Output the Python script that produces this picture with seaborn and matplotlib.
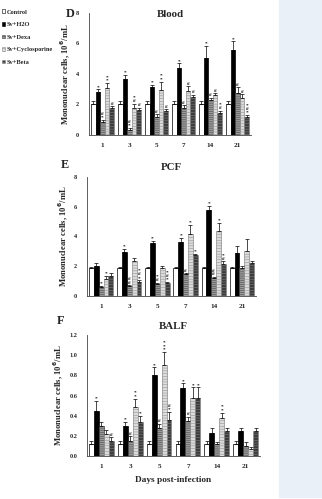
import numpy as np
import pandas as pd
import matplotlib
matplotlib.use("Agg")
import matplotlib.pyplot as plt
import matplotlib.patches as mpatches
import seaborn as sns

days = ["1", "3", "5", "7", "14", "21"]
groups = ["Control", "Sv+H2O", "Sv+Dexa", "Sv+Cyclosporine", "Sv+Beta"]

# Blood (panel D)
blood_control = [2.0, 2.0, 2.0, 2.0, 2.0, 2.0]
blood_h2o = [2.85, 3.7, 3.15, 4.4, 5.05, 5.6]
blood_dexa = [0.85, 0.35, 1.2, 1.8, 2.3, 2.75]
blood_cyclo = [3.1, 1.75, 2.95, 2.9, 2.6, 2.4]
blood_beta = [1.75, 1.65, 1.55, 2.5, 1.45, 1.15]
blood_err_control = [0.2, 0.2, 0.2, 0.2, 0.2, 0.2]
blood_err_h2o = [0.15, 0.25, 0.15, 0.3, 0.8, 0.55]
blood_err_dexa = [0.15, 0.1, 0.15, 0.15, 0.15, 0.4]
blood_err_cyclo = [0.3, 0.3, 0.55, 0.3, 0.15, 0.3]
blood_err_beta = [0.15, 0.15, 0.15, 0.15, 0.15, 0.15]
blood_marks = [
    ["", "", "", "", "", ""],
    ["*", "*", "*", "*", "*", "*"],
    ["#\n*", "#\n*", "#", "#", "#", "#"],
    ["*\n*", "*\n#", "*\n*", "#", "#", "#"],
    ["#", "#", "#", "#", "*\n#", "*\n#\n*"],
]

# PCF (panel E)
pcf_control = [1.85, 1.85, 1.85, 1.85, 1.85, 1.85]
pcf_h2o = [2.05, 2.95, 3.55, 3.6, 5.75, 2.9]
pcf_dexa = [0.6, 0.65, 0.8, 1.45, 1.2, 1.9]
pcf_cyclo = [1.15, 2.35, 1.85, 4.2, 4.35, 3.05]
pcf_beta = [1.35, 0.95, 0.85, 2.75, 2.15, 2.25]
pcf_err_control = [0.1, 0.1, 0.1, 0.1, 0.1, 0.1]
pcf_err_h2o = [0.2, 0.2, 0.15, 0.3, 0.3, 0.45]
pcf_err_dexa = [0.1, 0.1, 0.1, 0.1, 0.1, 0.1]
pcf_err_cyclo = [0.2, 0.2, 0.2, 0.6, 0.55, 0.8]
pcf_err_beta = [0.2, 0.1, 0.1, 0.1, 0.2, 0.1]
pcf_marks = [
    ["", "", "", "", "", ""],
    ["", "*", "*", "*", "*", ""],
    ["*", "#\n#", "*\n#", "#", "#\n#", ""],
    ["*", "", "", "*", "*", ""],
    ["", "*\n#\n*", "*\n#\n*", "*", "*\n#", ""],
]

# BALF (panel F)
balf_control = [0.12, 0.12, 0.12, 0.12, 0.12, 0.12]
balf_h2o = [0.45, 0.3, 0.8, 0.67, 0.23, 0.25]
balf_dexa = [0.3, 0.15, 0.28, 0.35, 0.12, 0.1]
balf_cyclo = [0.22, 0.49, 0.9, 0.58, 0.38, 0.07]
balf_beta = [0.15, 0.34, 0.36, 0.58, 0.25, 0.25]
balf_err_control = [0.03, 0.03, 0.03, 0.03, 0.03, 0.03]
balf_err_h2o = [0.1, 0.04, 0.08, 0.05, 0.05, 0.03]
balf_err_dexa = [0.04, 0.05, 0.04, 0.04, 0.02, 0.04]
balf_err_cyclo = [0.04, 0.08, 0.13, 0.1, 0.05, 0.02]
balf_err_beta = [0.04, 0.06, 0.08, 0.1, 0.03, 0.03]
balf_marks = [
    ["", "", "", "", "", ""],
    ["*", "*", "*", "*", "", ""],
    ["", "#", "#", "#", "", ""],
    ["", "*\n*", "*\n*\n*", "*", "*\n*", ""],
    ["#", "*", "#\n*", "*", "", ""],
]

sns.set_theme(style="white")
plt.rcParams["font.family"] = ["Liberation Serif", "DejaVu Serif"]
plt.rcParams["font.weight"] = "bold"
plt.rcParams["hatch.linewidth"] = 0.35

facecolors = ["white", "black", "#9a9a9a", "#dcdcdc", "#3c3c3c"]
edgecolors = ["black", "black", "#404040", "#8a8a8a", "#8a8a8a"]
hatches = [None, None, "--------", "------", "------"]

fig = plt.figure(figsize=(3.22, 4.99), dpi=100)
fig.patches.append(mpatches.Rectangle((279 / 322, 2 / 499), 1 - 279 / 322, 1 - 2 / 499,
                                      transform=fig.transFigure, color="#eaf0f8", zorder=-10))


def panel(rect, vals, errs, marks, ylim, yticks, yticklabels, title, title_y, letter, letter_xy, mark_off):
    ax = fig.add_axes(rect)
    df = pd.DataFrame({
        "day": np.tile(days, len(groups)),
        "group": np.repeat(groups, len(days)),
        "value": np.concatenate(vals),
    })
    sns.barplot(data=df, x="day", y="value", hue="group", order=days, hue_order=groups,
                palette=facecolors, width=0.86, gap=0, errorbar=None, legend=False,
                saturation=1, edgecolor="black", linewidth=0.5, ax=ax)
    bar_containers = list(ax.containers)
    for gi, cont in enumerate(bar_containers):
        xs = []
        ys = []
        for p in cont.patches:
            p.set_edgecolor(edgecolors[gi])
            if hatches[gi]:
                p.set_hatch(hatches[gi])
            xs.append(p.get_x() + p.get_width() / 2)
            ys.append(p.get_height())
        e = np.array(errs[gi])
        ax.errorbar(xs, ys, yerr=[np.zeros_like(e), e], fmt="none", ecolor="black",
                    elinewidth=0.5, capsize=1.3, capthick=0.5, zorder=5)
        for x, y, er, m in zip(xs, ys, e, marks[gi]):
            if m:
                ax.text(x, y + er + mark_off, m, ha="center", va="bottom", fontsize=3.8,
                        fontweight="bold", linespacing=0.9, color="black")
    ax.set_ylim(*ylim)
    ax.set_xlim(-0.5, 5.5)
    ax.set_yticks(yticks)
    ax.set_yticklabels(yticklabels, fontsize=4.5, fontweight="bold")
    ax.set_xticks(range(len(days)))
    ax.set_xticklabels(days, fontsize=5.2, fontweight="bold")
    ax.set_xticks(np.arange(0.5, 6.0, 1.0), minor=True)
    ax.tick_params(axis="x", which="major", length=0, pad=6)
    ax.tick_params(axis="x", which="minor", length=2, width=0.5, direction="out", color="#555")
    ax.tick_params(axis="y", length=2, width=0.5, direction="out", pad=5, color="#555")
    ax.set_xlabel("")
    ax.set_ylabel("Mononuclear cells, 10$^\\mathbf{6}$/mL", fontsize=6.2, fontweight="bold", labelpad=3)
    for s in ["top", "right"]:
        ax.spines[s].set_visible(False)
    for s in ["left", "bottom"]:
        ax.spines[s].set_linewidth(0.6)
        ax.spines[s].set_color("#444")
    ax.text(0.5, title_y, title, transform=ax.transAxes, ha="center", va="center",
            fontsize=7.8, fontweight="bold")
    fig.text(letter_xy[0], letter_xy[1], letter, ha="center", va="center",
             fontsize=8.8, fontweight="bold")
    return ax


axD = panel([89 / 322, 1 - 135 / 499, 162 / 322, 122 / 499],
            [blood_control, blood_h2o, blood_dexa, blood_cyclo, blood_beta],
            [blood_err_control, blood_err_h2o, blood_err_dexa, blood_err_cyclo, blood_err_beta],
            blood_marks, (0, 8), [0, 2, 4, 6, 8], ["0", "2", "4", "6", "8"],
            "Blood", 0.99, "D", (70 / 322, 1 - 14 / 499), 0.02)

axE = panel([87 / 322, 1 - 296 / 499, 169 / 322, 119 / 499],
            [pcf_control, pcf_h2o, pcf_dexa, pcf_cyclo, pcf_beta],
            [pcf_err_control, pcf_err_h2o, pcf_err_dexa, pcf_err_cyclo, pcf_err_beta],
            pcf_marks, (0, 8), [0, 2, 4, 6, 8], ["0", "2", "4", "6", "8"],
            "PCF", 1.08, "E", (65 / 322, 1 - 165 / 499), 0.02)

axF = panel([87 / 322, 1 - 456 / 499, 173 / 322, 121 / 499],
            [balf_control, balf_h2o, balf_dexa, balf_cyclo, balf_beta],
            [balf_err_control, balf_err_h2o, balf_err_dexa, balf_err_cyclo, balf_err_beta],
            balf_marks, (0, 1.2), [0, 0.2, 0.4, 0.6, 0.8, 1.0, 1.2],
            ["0.0", "0.2", "0.4", "0.6", "0.8", "1.0", "1.2"],
            "BALF", 1.07, "F", (61 / 322, 1 - 321 / 499), 0.003)
axF.set_xlabel("Days post-infection", fontsize=6.7, fontweight="bold", labelpad=5)

handles = [mpatches.Patch(facecolor=facecolors[i], edgecolor=edgecolors[i] if i else "black",
                          hatch=hatches[i], linewidth=0.4) for i in range(len(groups))]
fig.legend(handles, groups, loc="upper left", bbox_to_anchor=(-0.008, 1 - 5 / 499),
           frameon=False, handlelength=0.55, handleheight=0.55,
           handletextpad=0.25, labelspacing=1.15, borderpad=0.2,
           prop={"family": ["Liberation Serif"], "weight": "bold", "size": 4.6})

fig.savefig("out.png", dpi=100)
